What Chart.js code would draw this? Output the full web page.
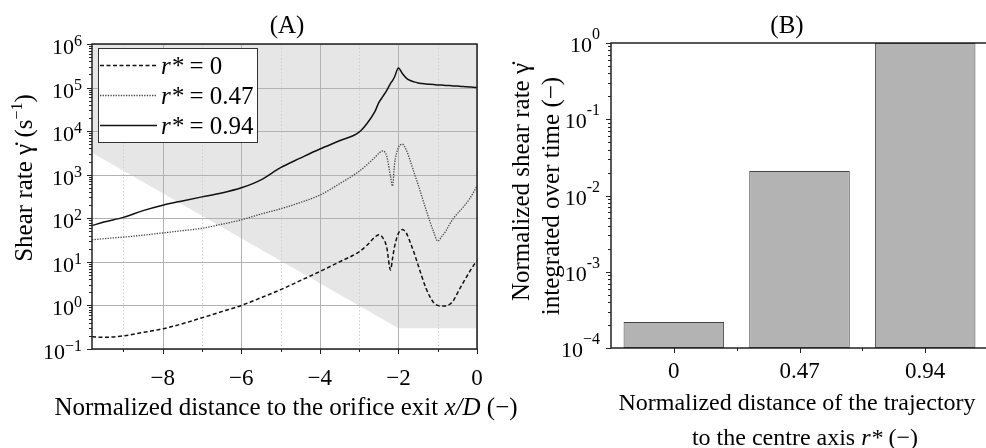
<!DOCTYPE html>
<html>
<head>
<meta charset="utf-8">
<script src="https://cdn.jsdelivr.net/npm/chart.js@4.4.1/dist/chart.umd.min.js"></script>
<style>
    html, body { margin: 0; padding: 0; background: #fff; overflow: hidden; width: 986px; height: 448px; }
    #wrapA { position: absolute; left: 0; top: 0; width: 560px; height: 448px; }
    #wrapB { position: absolute; left: 500px; top: 0; width: 490px; height: 448px; }
</style>
</head>
<body>
<div id="wrapA"><canvas id="chartA" width="560" height="448"></canvas></div>
<div id="wrapB"><canvas id="chartB" width="490" height="448"></canvas></div>
<script>
// ===== PANEL A DATA =====
const xPos = [-9.8, -9.5, -9, -8.5, -8, -7.5, -7, -6.5, -6, -5.5, -5, -4.5, -4, -3.5, -3, -2.8, -2.6, -2.5,
    -2.4, -2.3, -2.2, -2.15, -2.1, -2.0, -1.9, -1.8, -1.7, -1.6, -1.5, -1.4, -1.3, -1.2, -1.1, -1.0,
    -0.9, -0.8, -0.7, -0.6, -0.5, -0.4, -0.3, -0.2, -0.1, 0];
const rateR0 = [0.19, 0.185, 0.2, 0.24, 0.29, 0.38, 0.52, 0.72, 1.0, 1.5, 2.3, 3.7, 6, 10, 17, 24, 37, 42,
    36, 22, 6.5, 12, 22, 45, 55, 46, 28, 16, 8.5, 4.5, 2.5, 1.6, 1.15, 1.0,
    0.97, 0.97, 1.05, 1.3, 1.9, 2.8, 4, 5.7, 8, 10.5];
const rateR047 = [32, 34, 37, 41, 46, 52, 59, 73, 92, 125, 165, 230, 340, 620, 1200, 1700, 2500, 3100,
    3500, 2700, 900, 550, 1700, 4200, 5000, 3700, 2100, 1100, 600, 310, 160, 85, 48, 30,
    38, 50, 72, 100, 128, 160, 205, 270, 380, 550];
const rateR094 = [68, 82, 105, 150, 200, 250, 310, 380, 500, 760, 1450, 2400, 3900, 6000, 9500, 15000, 28000, 45000,
    62000, 85000, 125000, 145000, 175000, 280000, 210000, 165000, 145000, 135000, 128000, 124000, 121000, 119000, 117000, 115000,
    114000, 112000, 111000, 109000, 108000, 106000, 105000, 103000, 102000, 100000];
const shadeX = [-9.8, -2, 0];
const shadeY = [3200, 0.3, 0.3];
const seriesLabels = ['0', '0.47', '0.94'];
const xTicksA = [-8, -6, -4, -2, 0];
const decadesA = [-1, 0, 1, 2, 3, 4, 5, 6];

// ===== PANEL B DATA =====
const radialPos = ['0', '0.47', '0.94'];
const integratedRate = [2.2e-4, 0.021, 1.0];
const decadesB = [-4, -3, -2, -1, 0];
const expLabelsB = ['\u22124', '-3', '-2', '-1', '0'];

const SERIF = '"Liberation Serif", "Times New Roman", serif';
const fnt = (size, style) => (style ? style + ' ' : '') + size + 'px ' + SERIF;
const toPts = (xs, ys) => xs.map((x, i) => ({ x: x, y: ys[i] }));

// draws a run of text pieces: {t, size, style, dy}
function richText(ctx, parts, x, y, align) {
    let w = 0;
    parts.forEach(p => { ctx.font = fnt(p.size, p.style); p.w = ctx.measureText(p.t).width; w += p.w; });
    let cx = align === 'right' ? x - w : (align === 'center' ? x - w / 2 : x);
    ctx.textAlign = 'left';
    parts.forEach(p => {
        ctx.font = fnt(p.size, p.style);
        ctx.fillText(p.t, cx, y + (p.dy || 0));
        cx += p.w;
    });
}

function logTicks(ctx, scale, left, lo, hi) {
    for (let e = lo; e <= hi; e++) {
        for (let m = 1; m <= 9; m++) {
            const v = m * Math.pow(10, e);
            if (v > Math.pow(10, hi) + 1e-12) break;
            const py = Math.round(scale.getPixelForValue(v)) + 0.5;
            ctx.beginPath();
            ctx.moveTo(left - (m === 1 ? 5 : 3), py);
            ctx.lineTo(left, py);
            ctx.stroke();
        }
    }
}

// ===== PANEL A PLUGIN =====
const panelA = {
    id: 'panelA',
    beforeDatasetsDraw(chart) {
        const { ctx, chartArea: a, scales: { x, y } } = chart;
        ctx.save();
        ctx.lineWidth = 1;
        for (let v = -9; v <= 0; v++) {
            const px = Math.round(x.getPixelForValue(v)) + 0.5;
            ctx.setLineDash(v % 2 === 0 ? [] : [1.5, 2]);
            ctx.strokeStyle = v % 2 === 0 ? '#b2b2b2' : '#cfcfcf';
            ctx.beginPath();
            ctx.moveTo(px, a.top);
            ctx.lineTo(px, a.bottom);
            ctx.stroke();
        }
        ctx.setLineDash([]);
        ctx.strokeStyle = '#b2b2b2';
        decadesA.forEach(e => {
            const py = Math.round(y.getPixelForValue(Math.pow(10, e))) + 0.5;
            ctx.beginPath();
            ctx.moveTo(a.left, py);
            ctx.lineTo(a.right, py);
            ctx.stroke();
        });
        ctx.restore();
    },
    afterDraw(chart) {
        const { ctx, chartArea: a, scales: { x, y } } = chart;
        ctx.save();
        ctx.fillStyle = '#000';
        ctx.strokeStyle = '#222';

        // frame
        ctx.lineWidth = 1.5;
        ctx.strokeRect(a.left, a.top, a.right - a.left, a.bottom - a.top);

        // ticks
        ctx.lineWidth = 1;
        logTicks(ctx, y, a.left, -1, 6);
        for (let v = -9; v <= 0; v++) {
            const px = Math.round(x.getPixelForValue(v)) + 0.5;
            ctx.beginPath();
            ctx.moveTo(px, a.bottom);
            ctx.lineTo(px, a.bottom + (v % 2 === 0 ? 5 : 3));
            ctx.stroke();
        }

        // y tick labels
        decadesA.forEach(e => {
            const py = y.getPixelForValue(Math.pow(10, e));
            const ex = e < 0 ? '\u2212' + (-e) : String(e);
            ctx.font = fnt(16);
            const ew = ctx.measureText(ex).width;
            ctx.textAlign = 'right';
            ctx.fillText(ex, a.left - 10, py + 2);
            ctx.font = fnt(22);
            ctx.fillText('10', a.left - 10 - ew, py + 10);
        });

        // x tick labels
        ctx.font = fnt(23);
        ctx.textAlign = 'center';
        xTicksA.forEach(v => {
            const lbl = v < 0 ? '\u2212' + (-v) : String(v);
            ctx.fillText(lbl, x.getPixelForValue(v), 385);
        });

        // titles
        ctx.font = fnt(25);
        ctx.fillText('(A)', 287, 33);
        richText(ctx, [
            { t: 'Normalized distance to the orifice exit ', size: 25 },
            { t: 'x/D', size: 25, style: 'italic' },
            { t: ' (\u2212)', size: 25 }
        ], 286, 415, 'center');

        ctx.save();
        ctx.translate(32, 178);
        ctx.rotate(-Math.PI / 2);
        richText(ctx, [
            { t: 'Shear rate \u03B3\u0307 (s', size: 25 },
            { t: '\u22121', size: 16, dy: -10 },
            { t: ')', size: 25 }
        ], 0, 0, 'center');
        ctx.restore();

        // legend
        const lx = 98, ly = 48, lw = 159, lh = 94;
        ctx.fillStyle = '#fff';
        ctx.fillRect(lx, ly, lw, lh);
        ctx.strokeStyle = '#333';
        ctx.lineWidth = 1;
        ctx.strokeRect(lx + 0.5, ly + 0.5, lw, lh);
        const rows = [65, 95, 125];
        for (let i = 0; i < 3; i++) {
            const ds = chart.data.datasets[i + 1];
            ctx.strokeStyle = ds.borderColor;
            ctx.lineWidth = ds.borderWidth;
            ctx.setLineDash(ds.borderDash || []);
            ctx.beginPath();
            ctx.moveTo(100, rows[i] + 0.5);
            ctx.lineTo(157, rows[i] + 0.5);
            ctx.stroke();
            ctx.setLineDash([]);
            ctx.fillStyle = '#000';
            richText(ctx, [
                { t: 'r*', size: 25, style: 'italic' },
                { t: ' = ' + seriesLabels[i], size: 25 }
            ], 161, rows[i] + 9, 'left');
        }
        ctx.restore();
    }
};

// ===== PANEL B PLUGIN =====
const panelB = {
    id: 'panelB',
    afterDraw(chart) {
        const { ctx, chartArea: a, scales: { x, y } } = chart;
        ctx.save();
        ctx.fillStyle = '#000';
        ctx.strokeStyle = '#222';

        ctx.lineWidth = 1.5;
        ctx.strokeRect(a.left, a.top, a.right - a.left, a.bottom - a.top);

        ctx.lineWidth = 1;
        logTicks(ctx, y, a.left, -4, 0);
        radialPos.forEach((lbl, i) => {
            const px = Math.round(x.getPixelForValue(i)) + 0.5;
            ctx.beginPath();
            ctx.moveTo(px, a.bottom);
            ctx.lineTo(px, a.bottom + 5);
            ctx.stroke();
            if (i < radialPos.length - 1) {
                const bx = Math.round((x.getPixelForValue(i) + x.getPixelForValue(i + 1)) / 2) + 0.5;
                ctx.beginPath();
                ctx.moveTo(bx, a.bottom);
                ctx.lineTo(bx, a.bottom + 3);
                ctx.stroke();
            }
        });

        decadesB.forEach((e, i) => {
            const py = y.getPixelForValue(Math.pow(10, e));
            const ex = expLabelsB[i];
            ctx.font = fnt(16);
            const ew = ctx.measureText(ex).width;
            ctx.textAlign = 'right';
            ctx.fillText(ex, a.left - 11, py - 4);
            ctx.font = fnt(22);
            ctx.fillText('10', a.left - 11 - ew, py + 9);
        });

        ctx.font = fnt(23);
        ctx.textAlign = 'center';
        radialPos.forEach((lbl, i) => {
            ctx.fillText(lbl, x.getPixelForValue(i), 378);
        });

        ctx.font = fnt(25);
        ctx.fillText('(B)', 287, 33);
        ctx.font = fnt(24);
        ctx.fillText('Normalized distance of the trajectory', 297, 410);
        richText(ctx, [
            { t: 'to the centre axis ', size: 24 },
            { t: 'r*', size: 24, style: 'italic' },
            { t: ' (\u2212)', size: 24 }
        ], 305, 445, 'center');

        ctx.save();
        ctx.translate(29, 182);
        ctx.rotate(-Math.PI / 2);
        ctx.textAlign = 'center';
        ctx.font = fnt(25);
        ctx.fillText('Normalized shear rate \u03B3\u0307', 0, 0);
        ctx.restore();
        ctx.save();
        ctx.translate(59, 196);
        ctx.rotate(-Math.PI / 2);
        ctx.textAlign = 'center';
        ctx.font = fnt(25);
        ctx.fillText('integrated over time (\u2212)', 0, 0);
        ctx.restore();

        ctx.restore();
    }
};

document.addEventListener('DOMContentLoaded', function() {

    // ===== CHART A: SHEAR RATE ALONG TRAJECTORIES =====
    new Chart(document.getElementById('chartA'), {
        type: 'line',
        data: {
            datasets: [{
                data: toPts(shadeX, shadeY),
                borderWidth: 0,
                borderColor: 'rgba(0,0,0,0)',
                backgroundColor: '#e6e6e6',
                pointRadius: 0,
                fill: 'end',
                tension: 0
            }, {
                data: toPts(xPos, rateR0),
                borderColor: '#111',
                borderWidth: 1.5,
                borderDash: [4, 2.5],
                pointRadius: 0,
                fill: false,
                cubicInterpolationMode: 'monotone'
            }, {
                data: toPts(xPos, rateR047),
                borderColor: '#444',
                borderWidth: 1.3,
                borderDash: [1.3, 1.3],
                pointRadius: 0,
                fill: false,
                cubicInterpolationMode: 'monotone'
            }, {
                data: toPts(xPos, rateR094),
                borderColor: '#111',
                borderWidth: 1.5,
                pointRadius: 0,
                fill: false,
                cubicInterpolationMode: 'monotone'
            }]
        },
        options: {
            responsive: false,
            animation: false,
            layout: { padding: { top: 44, right: 83, left: 0, bottom: 0 } },
            plugins: {
                legend: { display: false },
                tooltip: { enabled: false },
                filler: { drawTime: 'beforeDraw' }
            },
            scales: {
                x: {
                    type: 'linear',
                    min: -9.8,
                    max: 0,
                    grid: { display: false },
                    border: { display: false },
                    ticks: { display: false },
                    afterFit: function(s) { s.height = 99; }
                },
                y: {
                    type: 'logarithmic',
                    min: 0.1,
                    max: 1e6,
                    grid: { display: false },
                    border: { display: false },
                    ticks: { display: false },
                    afterFit: function(s) { s.width = 92; }
                }
            }
        },
        plugins: [panelA]
    });

    // ===== CHART B: INTEGRATED SHEAR RATE =====
    new Chart(document.getElementById('chartB'), {
        type: 'bar',
        data: {
            labels: radialPos,
            datasets: [{
                data: integratedRate,
                backgroundColor: '#b3b3b3',
                borderColor: '#444',
                borderWidth: 1,
                borderSkipped: false,
                barPercentage: 0.8,
                categoryPercentage: 1.0
            }]
        },
        options: {
            responsive: false,
            animation: false,
            layout: { padding: { top: 43, right: 2, left: 0, bottom: 0 } },
            plugins: {
                legend: { display: false },
                tooltip: { enabled: false }
            },
            scales: {
                x: {
                    grid: { display: false },
                    border: { display: false },
                    ticks: { display: false },
                    afterFit: function(s) { s.height = 100; }
                },
                y: {
                    type: 'logarithmic',
                    min: 1e-4,
                    max: 1,
                    grid: { display: false },
                    border: { display: false },
                    ticks: { display: false },
                    afterFit: function(s) { s.width = 111; }
                }
            }
        },
        plugins: [panelB]
    });
});
</script>
</body>
</html>
